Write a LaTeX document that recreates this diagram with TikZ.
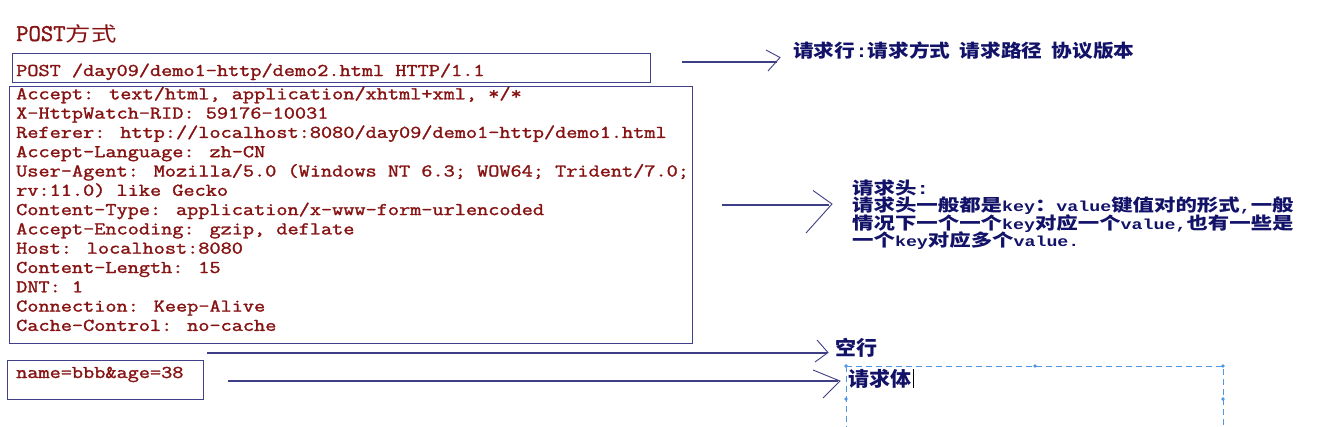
\documentclass[tikz,border=0pt]{standalone}
\usepackage{fontspec}
\usepackage{graphicx}
\newfontfamily\codeF[FakeBold=1.4]{Latin Modern Mono}
\newfontfamily\cjk{Noto Sans CJK SC}
\newfontfamily\latB{Liberation Mono}
\definecolor{dred}{RGB}{135,18,18}
\definecolor{boxc}{RGB}{64,64,140}
\definecolor{navy}{RGB}{18,18,105}
\definecolor{arrc}{RGB}{62,62,135}
\definecolor{selb}{RGB}{80,150,225}
\newcommand\CS[1]{\scalebox{1.203}[1]{#1}}
\newcommand\ZH[1]{{\cjk\bfseries #1}}
\newcommand\LT[1]{{\latB\bfseries #1}}
\tikzset{
  boxs/.style={draw=boxc, line width=1.4pt, inner sep=0pt, anchor=north west},
  code/.style={anchor=base west, inner sep=0pt, text=dred, font=\codeF\fontsize{18}{18}\selectfont},
  lab/.style={anchor=base west, inner sep=0pt, text=navy},
  conn/.style={draw=arrc, line width=1.2pt},
  chev/.style={draw=arrc, line width=0.9pt},
}
\begin{document}
\begin{tikzpicture}[x=1pt,y=-1pt]
\useasboundingbox[fill=white] (0,0) rectangle (1318,426);
% title
\node[anchor=base west, inner sep=0pt, text=dred] (title) at (16,41)
  {{\codeF\fontsize{24}{24}\selectfont POST}\scalebox{1.27}[1]{\cjk\fontsize{20}{20}\selectfont 方式}};
% request line box
\node[boxs, minimum width=638pt, minimum height=29pt] (rl) at (12,53) {};
\node[code] (rlt) at (16,76) {\CS{POST /day09/demo1-http/demo2.html HTTP/1.1}};
% headers box
\node[boxs, minimum width=683pt, minimum height=257pt] (hd) at (9,86) {};
\node[code] (h1) at (16,99.3) {\CS{Accept: text/html, application/xhtml+xml, */*}};
\node[code] (h2) at (16,118.6) {\CS{X-HttpWatch-RID: 59176-10031}};
\node[code] (h3) at (16,137.9) {\CS{Referer: http://localhost:8080/day09/demo1-http/demo1.html}};
\node[code] (h4) at (16,157.2) {\CS{Accept-Language: zh-CN}};
\node[code] (h5) at (16,176.5) {\CS{User-Agent: Mozilla/5.0 (Windows NT 6.3; WOW64; Trident/7.0;}};
\node[code] (h6) at (16,195.8) {\CS{rv:11.0) like Gecko}};
\node[code] (h7) at (16,215.1) {\CS{Content-Type: application/x-www-form-urlencoded}};
\node[code] (h8) at (16,234.4) {\CS{Accept-Encoding: gzip, deflate}};
\node[code] (h9) at (16,253.7) {\CS{Host: localhost:8080}};
\node[code] (h10) at (16,273.0) {\CS{Content-Length: 15}};
\node[code] (h11) at (16,292.3) {\CS{DNT: 1}};
\node[code] (h12) at (16,311.6) {\CS{Connection: Keep-Alive}};
\node[code] (h13) at (16,330.9) {\CS{Cache-Control: no-cache}};
% body box
\node[boxs, minimum width=196pt, minimum height=39pt] (bd) at (7,360) {};
\node[code] (bdt) at (16,378) {\CS{name=bbb\&age=38}};
% labels
\node[lab] (l1) at (793,57) {\scalebox{1.15}[1]{\fontsize{18}{18}\selectfont\ZH{请求行}\LT{:}\ZH{请求方式}\hspace{8pt}\ZH{请求路径}\hspace{8pt}\ZH{协议版本}}};
\node[lab] (l2a) at (852,194.5) {\scalebox{1.26}[1]{\fontsize{17}{17}\selectfont\ZH{请求头}\LT{:}}};
\node[lab] (l2b) at (852,211.5) {\scalebox{1.26}[1]{\fontsize{17}{17}\selectfont\ZH{请求头一般都是}{\fontsize{14.5}{14.5}\selectfont\LT{key}}\ZH{：}{\fontsize{14.5}{14.5}\selectfont\LT{value}}\ZH{键值对的形式}{\fontsize{14.5}{14.5}\selectfont\LT{,}}\ZH{一般}}};
\node[lab] (l2c) at (852,229) {\scalebox{1.26}[1]{\fontsize{17}{17}\selectfont\ZH{情况下一个一个}{\fontsize{14.5}{14.5}\selectfont\LT{key}}\ZH{对应一个}{\fontsize{14.5}{14.5}\selectfont\LT{value,}}\ZH{也有一些是}}};
\node[lab] (l2d) at (852,246.5) {\scalebox{1.26}[1]{\fontsize{17}{17}\selectfont\ZH{一个}{\fontsize{14.5}{14.5}\selectfont\LT{key}}\ZH{对应多个}{\fontsize{14.5}{14.5}\selectfont\LT{value.}}}};
\node[lab] (l3) at (835,355.6) {\scalebox{1.05}[1]{\fontsize{20}{20}\selectfont\ZH{空行}}};
\node[lab] (l4) at (848,386.6) {\scalebox{1.05}[1]{\fontsize{20}{20}\selectfont\ZH{请求体}}};
\draw[line width=0.8pt, black] (l4.south east) ++(2,-1) -- ++(0,-19);
% arrows
\coordinate (a1s) at (682,62); \coordinate (a1e) at (777,62);
\coordinate (a2s) at (722,205); \coordinate (a2e) at (829,205);
\coordinate (a3s) at (207,353); \coordinate (a3e) at (827,353);
\coordinate (a4s) at (228,381); \coordinate (a4e) at (838,381);
\draw[conn] (a1s) -- (a1e);
\draw[conn] (a2s) -- (a2e);
\draw[conn] (a3s) -- (a3e);
\draw[conn] (a4s) -- (a4e);
\draw[chev] (766,50) -- (780,57.5) -- (768,71);
\draw[chev] (813,190.5) -- (832,204) -- (806,233);
\draw[chev] (817,340) -- (828,352.5) -- (815,362);
\draw[chev] (813,370) -- (840,381) -- (823,398);
% selection box
\draw[selb, line width=0.9pt, dash pattern=on 6pt off 4pt] (846,366) rectangle (1223,432);
\foreach \p in {(846,366),(1035,366),(1223,366),(846,399),(1223,399)}
  \fill[selb] \p circle (1.8pt);
\end{tikzpicture}
\end{document}
